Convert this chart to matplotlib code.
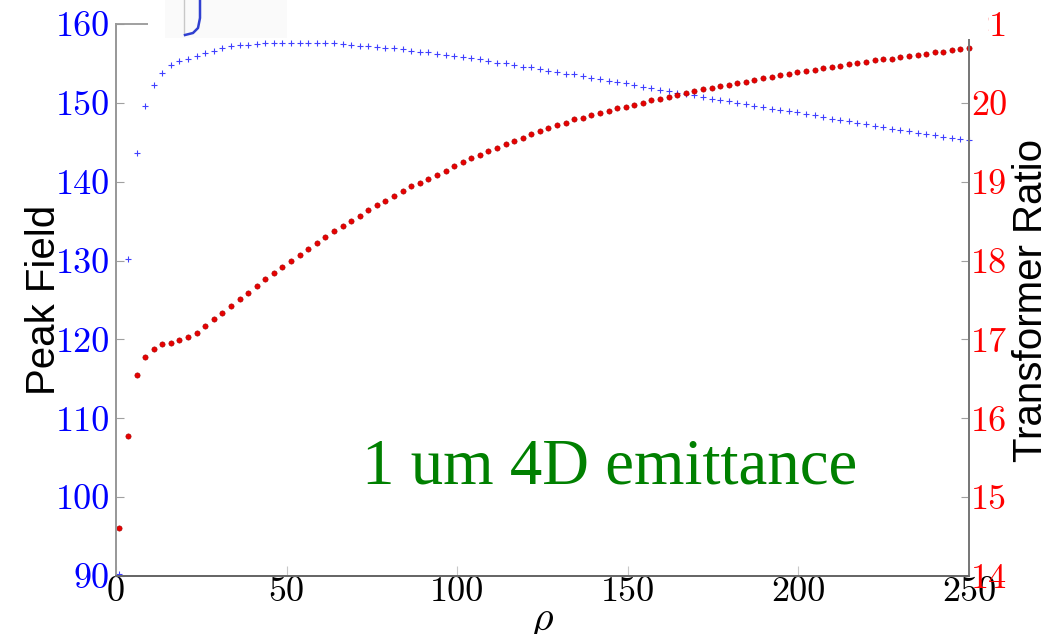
import numpy as np
import matplotlib
matplotlib.use("Agg")
import matplotlib.pyplot as plt
from matplotlib.lines import Line2D
from matplotlib.patches import Rectangle

plt.rcParams['mathtext.fontset'] = 'cm'

# rho sampling grid (100 samples)
rho = np.linspace(1, 250, 100)

# peak field, left axis
peak_field = [
    90.2, 130.2, 143.7, 149.6, 152.3, 153.8, 154.8, 155.3, 155.6, 155.9,
    156.3, 156.6, 157.0, 157.2, 157.3, 157.4, 157.5, 157.55, 157.6, 157.6,
    157.6, 157.6, 157.6, 157.55, 157.55, 157.55, 157.46, 157.34, 157.25, 157.25,
    157.1, 157.0, 156.9, 156.8, 156.6, 156.5, 156.4, 156.2, 156.1, 156.0,
    155.8, 155.65, 155.5, 155.3, 155.1, 155.0, 154.8, 154.6, 154.5, 154.3,
    154.1, 153.9, 153.7, 153.6, 153.4, 153.2, 153.0, 152.8, 152.65, 152.5,
    152.3, 152.05, 151.85, 151.6, 151.45, 151.3, 151.1, 150.95, 150.7, 150.5,
    150.4, 150.2, 150.0, 149.8, 149.65, 149.5, 149.25, 149.1, 148.97, 148.8,
    148.6, 148.4, 148.2, 147.95, 147.8, 147.65, 147.5, 147.3, 147.1, 146.9,
    146.7, 146.55, 146.4, 146.2, 146.1, 145.9, 145.7, 145.55, 145.4, 145.25,
]

# transformer ratio, right axis
transformer_ratio = [
    14.61, 15.78, 16.55, 16.78, 16.875, 16.94, 16.96, 16.99, 17.03, 17.08,
    17.17, 17.26, 17.34, 17.42, 17.51, 17.59, 17.68, 17.76, 17.84, 17.92,
    18.0, 18.07, 18.15, 18.22, 18.30, 18.37, 18.44, 18.50, 18.57, 18.64,
    18.70, 18.76, 18.82, 18.88, 18.94, 18.99, 19.04, 19.09, 19.14, 19.20,
    19.25, 19.30, 19.34, 19.39, 19.43, 19.48, 19.52, 19.56, 19.61, 19.64,
    19.68, 19.72, 19.75, 19.79, 19.81, 19.84, 19.87, 19.90, 19.93, 19.95,
    19.97, 20.00, 20.03, 20.05, 20.07, 20.10, 20.13, 20.15, 20.17, 20.19,
    20.21, 20.23, 20.25, 20.27, 20.29, 20.32, 20.33, 20.35, 20.37, 20.39,
    20.40, 20.42, 20.44, 20.45, 20.47, 20.49, 20.51, 20.52, 20.54, 20.55,
    20.56, 20.58, 20.59, 20.61, 20.62, 20.64, 20.65, 20.67, 20.68, 20.70,
]

x_ticks = [0, 50, 100, 150, 200, 250]
left_ticks = [90, 100, 110, 120, 130, 140, 150, 160]
right_ticks = [14, 15, 16, 17, 18, 19, 20, 21]

W, H = 1048, 634
fig = plt.figure(figsize=(W / 100, H / 100), dpi=100)
ax = fig.add_axes([116 / W, 58 / H, 853 / W, 552 / H])
ax2 = ax.twinx()

ax.plot(rho, peak_field, linestyle='none', marker='+', color='blue',
        markersize=5, markeredgewidth=0.8, alpha=0.75, clip_on=False)
ax2.plot(rho, transformer_ratio, linestyle='none', marker='o', color='#e80000',
         markersize=3.8, markeredgewidth=0.4, markeredgecolor='#a00000', clip_on=False)

ax.set_xlim(0, 250)
ax.set_ylim(90, 160)
ax2.set_ylim(14, 21)

tick_font = dict(fontfamily='cmr10', fontsize=26)
ax.set_xticks(x_ticks, [str(t) for t in x_ticks], color='black', **tick_font)
ax.set_yticks(left_ticks, [str(t) for t in left_ticks], color='blue', **tick_font)
ax2.set_yticks(right_ticks, [str(t) for t in right_ticks], color='red', **tick_font)

ax.tick_params(axis='x', direction='in', length=7, color='#c8c8c8', pad=0)
ax.tick_params(axis='y', direction='in', length=6, color='#a0a0a0', pad=4.5)
ax2.tick_params(axis='y', direction='in', length=6, color='#a0a0a0', pad=1.5)

for a in (ax, ax2):
    a.spines['top'].set_visible(False)
    a.spines['left'].set_color('#999999')
    a.spines['right'].set_color('#777777')
    a.spines['bottom'].set_color('#666666')
    for s in a.spines.values():
        s.set_linewidth(1.3)

# short stub of the top frame next to the 160 label
ax.plot([0, 32 / 853], [1, 1], transform=ax.transAxes, color='#999999',
        linewidth=1.3, clip_on=False)

ax.set_xlabel(r'$\rho$', fontsize=30, labelpad=-6)
ax.set_ylabel('Peak Field', fontsize=29, fontfamily='Liberation Sans')
ax.yaxis.set_label_coords(-0.062, 0.5)
ax2.set_ylabel('Transformer Ratio', fontsize=29, fontfamily='Liberation Sans')
ax2.yaxis.set_label_coords(1.050, 0.5)

ax.text(0.288, 0.168, '1 um 4D emittance', transform=ax.transAxes,
        fontfamily='Liberation Serif', fontsize=46.7, color='green',
        ha='left', va='baseline')

# pasted strip across the top edge
fig.add_artist(Rectangle((148 / W, (H - 39) / H), (988 - 148) / W, 39 / H,
                         transform=fig.transFigure, facecolor='white',
                         edgecolor='none', zorder=5))
fig.add_artist(Rectangle((165 / W, (H - 38) / H), (287 - 165) / W, 38 / H,
                         transform=fig.transFigure, facecolor='#fafafa',
                         edgecolor='none', zorder=5))
fig.add_artist(Line2D([184 / W, 184 / W], [1, (H - 33) / H],
                      transform=fig.transFigure, color='#c8c8c8',
                      linewidth=1, zorder=6))
fig.add_artist(Line2D([200 / W, 200 / W, 198 / W, 193 / W, 185 / W],
                      [1, (H - 18) / H, (H - 28) / H, (H - 33) / H, (H - 35) / H],
                      transform=fig.transFigure, color='#3040d0',
                      linewidth=1.8, zorder=6))

fig.savefig('out.png', dpi=100)
